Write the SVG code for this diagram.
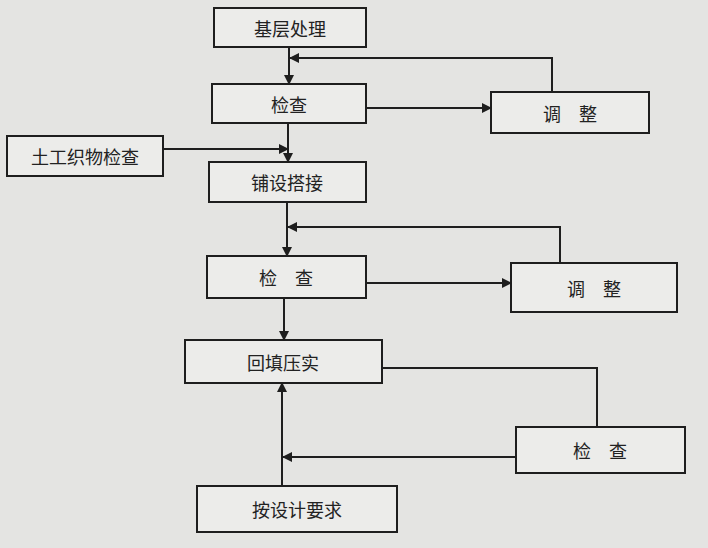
<svg xmlns="http://www.w3.org/2000/svg" width="708" height="548" viewBox="0 0 708 548">
<defs>
<marker id="a" markerWidth="10" markerHeight="10" refX="9" refY="5" orient="auto" markerUnits="userSpaceOnUse"><path d="M0,0 L10,5 L0,10 Z" fill="#1e1e1e"/></marker>
<style>
rect{fill:#ececea;stroke:#1e1e1e;stroke-width:2}
text{font-family:"Noto Sans CJK SC","Noto Sans",sans-serif;font-size:18px;fill:#222;text-anchor:middle;dominant-baseline:central}
.c path{fill:none;stroke:#1e1e1e;stroke-width:2}
</style>
</defs>
<rect x="0" y="0" width="708" height="548" style="fill:#e4e4e2;stroke:none"/>
<g id="n1"><rect x="214" y="8" width="152" height="39"/><text x="290" y="28">基层处理</text></g>
<g id="n2"><rect x="212" y="84" width="154" height="39"/><text x="289" y="104">检查</text></g>
<g id="n3"><rect x="491" y="92" width="158" height="41"/><text x="570" y="113">调　整</text></g>
<g id="n4"><rect x="7" y="136" width="156" height="40"/><text x="85" y="156">土工织物检查</text></g>
<g id="n5"><rect x="209" y="162" width="157" height="40"/><text x="287" y="182">铺设搭接</text></g>
<g id="n6"><rect x="207" y="256" width="159" height="42"/><text x="286" y="277">检　查</text></g>
<g id="n7"><rect x="511" y="263" width="166" height="49"/><text x="594" y="288">调　整</text></g>
<g id="n8"><rect x="185" y="340" width="197" height="43"/><text x="283" y="362">回填压实</text></g>
<g id="n9"><rect x="516" y="427" width="169" height="46"/><text x="600" y="450">检　查</text></g>
<g id="n10"><rect x="197" y="486" width="200" height="46"/><text x="297" y="509">按设计要求</text></g>
<g class="c">
<path d="M289,47 V84" marker-end="url(#a)"/>
<path d="M552,92 V58 H290" marker-end="url(#a)"/>
<path d="M366,108 H491" marker-end="url(#a)"/>
<path d="M288,123 V162" marker-end="url(#a)"/>
<path d="M163,149 H288" marker-end="url(#a)"/>
<path d="M287,202 V256" marker-end="url(#a)"/>
<path d="M560,263 V227 H288" marker-end="url(#a)"/>
<path d="M366,283 H511" marker-end="url(#a)"/>
<path d="M284,298 V340" marker-end="url(#a)"/>
<path d="M382,368 H597 V427"/>
<path d="M516,457 H283" marker-end="url(#a)"/>
<path d="M282,486 V383" marker-end="url(#a)"/>
</g>
</svg>
